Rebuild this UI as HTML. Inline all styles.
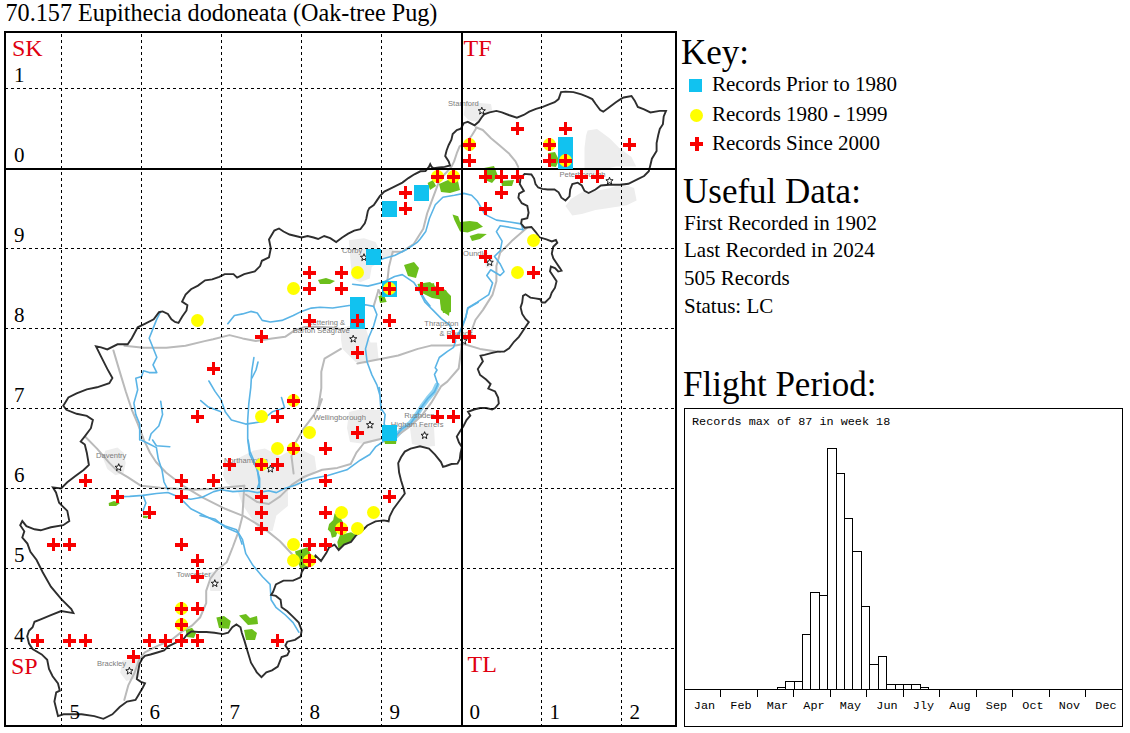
<!DOCTYPE html>
<html><head><meta charset="utf-8"><style>
html,body{margin:0;padding:0;background:#fff;width:1130px;height:733px;overflow:hidden}
svg{display:block}
</style></head><body>
<svg width="1130" height="733" viewBox="0 0 1130 733">
<text x="5.5" y="21" font-family="'Liberation Serif', serif" font-size="24.2" fill="#000">70.157 Eupithecia dodoneata (Oak-tree Pug)</text>
<polygon points="105.2,450.7 117.5,447.6 123.6,452.7 125.7,462.9 123.6,473.1 115.4,475.2 107.3,469.1 103.2,458.8" fill="#ededed"/>
<polygon points="224.8,465.8 238.2,458.2 253.5,450.6 264.9,448.6 280.2,456.3 289.8,450.6 303.1,450.6 314.6,456.3 316.5,469.7 307.0,477.3 299.3,484.9 287.9,490.7 287.9,505.9 276.4,515.5 272.6,530.8 261.1,532.7 249.7,515.5 242.0,504.0 238.2,492.6 226.7,483.0 222.9,475.4" fill="#ededed"/>
<polygon points="349.0,412.0 362.0,409.0 381.0,410.0 382.0,425.0 381.0,440.0 365.0,444.0 350.0,442.0 347.0,428.0" fill="#ededed"/>
<polygon points="410.0,428.0 422.0,424.0 434.0,427.0 435.0,446.0 424.0,447.0 412.0,444.0" fill="#ededed"/>
<polygon points="340.9,327.6 349.1,326.0 365.5,327.6 370.4,342.4 376.9,342.4 378.5,358.7 365.5,363.6 355.6,362.0 349.1,355.5 342.5,348.9 340.9,339.1" fill="#ededed"/>
<polygon points="348.8,240.2 364.0,238.3 375.5,242.1 379.3,249.8 392.7,247.9 394.6,255.5 383.2,259.3 371.7,267.0 369.8,278.4 360.2,282.3 352.6,278.4 350.7,263.2" fill="#ededed"/>
<polygon points="208.2,572.5 220.5,570.5 222.6,590.9 210.3,590.9" fill="#ededed"/>
<polygon points="122.3,660.5 138.7,658.5 140.7,676.9 126.4,681.0 120.2,672.8" fill="#ededed"/>
<polygon points="465.0,105.5 477.3,102.7 491.0,104.1 492.3,110.9 482.8,116.4 477.3,121.8 469.1,120.5 463.7,115.0" fill="#ededed"/>
<polygon points="587.6,130.5 597.0,128.9 609.6,138.3 619.0,147.7 631.5,157.1 636.2,166.5 625.3,166.5 615.9,166.5 601.7,169.7 597.0,172.8 584.5,172.8 584.5,147.7 586.1,135.2" fill="#ededed"/>
<polygon points="565.5,205.9 570.9,199.1 581.8,192.3 595.5,190.9 609.1,188.2 622.0,184.0 634.1,188.1 636.6,200.4 626.7,205.3 609.1,208.0 595.5,210.0 581.8,214.1 572.3,215.5" fill="#ededed"/>
<polygon points="484.0,256.0 492.0,254.0 494.0,266.0 486.0,268.0" fill="#ededed"/>
<polyline points="396.0,436.0 402.0,429.5 410.5,423.0 416.5,415.0 422.0,406.5 428.0,398.5 434.0,391.5 437.0,385.0" fill="none" stroke="#8fd2f0" stroke-width="5" stroke-linejoin="round" stroke-linecap="round"/>
<polyline points="84.8,436.3 97.0,448.6 109.3,462.9 117.5,471.1 127.7,477.2 141.1,485.8 160.2,487.8 175.5,488.7 194.6,489.7 213.7,488.7 232.8,486.8 244.3,485.8" fill="none" stroke="#bababa" stroke-width="2" stroke-linejoin="round" stroke-linecap="round"/>
<polyline points="113.4,350.4 119.5,370.9 125.7,391.3 131.8,409.8 137.9,424.1 144.1,440.4 150.0,452.7 156.0,462.0 166.0,472.5 183.2,485.8 202.3,497.3 225.2,508.8 244.3,516.4 263.4,527.9 280.0,541.2 291.7,553.7 295.5,560.0" fill="none" stroke="#bababa" stroke-width="2" stroke-linejoin="round" stroke-linecap="round"/>
<polyline points="244.3,485.8 242.4,516.4 238.5,531.7 232.8,547.0 226.7,562.3 216.4,570.5 210.3,578.7 206.2,590.9 206.2,603.2 200.1,617.5 191.9,625.7 181.6,631.9 171.4,640.0 157.1,646.2 144.8,652.3 138.7,660.5 134.6,672.8 128.4,685.1 124.3,700.0" fill="none" stroke="#bababa" stroke-width="2" stroke-linejoin="round" stroke-linecap="round"/>
<polyline points="245.8,494.5 257.3,502.1 268.8,504.0 280.2,496.4 291.7,484.9 303.1,477.3 322.2,469.7 337.3,467.9 350.7,464.0 356.4,452.6 364.0,443.0 379.3,439.2 397.5,435.4 409.5,426.7 421.5,415.8 431.3,402.7 441.0,386.4 447.3,381.6 458.7,368.5 462.0,344.0" fill="none" stroke="#bababa" stroke-width="2" stroke-linejoin="round" stroke-linecap="round"/>
<polyline points="124.4,345.8 143.5,347.7 166.4,347.7 185.5,345.8 204.6,341.1 213.1,339.2 229.5,335.1 242.6,338.4 255.7,340.9 272.0,338.4 285.1,336.8 295.0,330.2 304.8,327.0 316.4,326.8 332.7,327.6 340.9,329.3" fill="none" stroke="#bababa" stroke-width="2" stroke-linejoin="round" stroke-linecap="round"/>
<polyline points="340.9,348.9 324.5,358.7 321.3,371.8 321.3,388.2 318.0,410.0 322.0,399.1 314.4,414.4 302.9,429.7 295.3,443.0 291.5,456.4 293.6,473.5" fill="none" stroke="#bababa" stroke-width="2" stroke-linejoin="round" stroke-linecap="round"/>
<polyline points="357.3,363.6 381.8,358.7 398.2,355.5 417.8,348.9 430.9,345.6 455.5,345.6 463.6,344.0 480.0,348.9 500.0,352.0" fill="none" stroke="#bababa" stroke-width="2" stroke-linejoin="round" stroke-linecap="round"/>
<polyline points="378.5,290.0 373.6,306.4" fill="none" stroke="#bababa" stroke-width="2" stroke-linejoin="round" stroke-linecap="round"/>
<polyline points="438.5,182.9 432.8,198.2 427.1,213.5 423.3,228.8 413.7,244.0 402.3,251.7 392.7,251.7 388.9,267.0 387.0,284.2 383.2,300.0 378.5,290.0" fill="none" stroke="#bababa" stroke-width="2" stroke-linejoin="round" stroke-linecap="round"/>
<polyline points="527.0,227.7 511.7,241.1 500.2,252.6 496.4,266.0 496.4,281.2 492.6,294.6 483.0,309.9 475.4,320.0 470.0,335.0" fill="none" stroke="#bababa" stroke-width="2" stroke-linejoin="round" stroke-linecap="round"/>
<polyline points="475.9,127.3 482.8,130.0 491.0,138.2 499.1,145.0 508.7,153.2 515.5,161.4 518.2,166.9" fill="none" stroke="#bababa" stroke-width="2" stroke-linejoin="round" stroke-linecap="round"/>
<polyline points="475.9,128.7 471.8,135.5 466.4,142.3 459.6,146.4 456.8,153.2 454.1,161.4 451.4,166.9 444.0,175.0 438.5,182.9" fill="none" stroke="#bababa" stroke-width="2" stroke-linejoin="round" stroke-linecap="round"/>
<polyline points="118.2,496.7 129.7,496.4 143.0,495.4 156.4,493.5 167.9,492.5 179.3,497.3 190.8,499.2 202.3,497.3 213.7,491.6 221.4,489.7 232.8,491.6 247.7,490.7 257.3,492.6 268.8,490.7 276.4,492.6 284.0,488.8 295.5,484.9 308.7,479.3 327.8,475.5 346.9,469.8 360.2,460.2 369.8,454.5 375.5,446.9 384.0,441.0 390.0,438.0 396.4,435.4 401.8,428.9 410.5,423.5 416.0,415.8 421.5,407.0 428.0,398.3 434.5,391.8 437.8,384.2 434.5,374.4 437.0,370.0 435.2,367.7 439.3,357.5 447.5,351.3 453.6,347.3 455.7,341.1 453.6,333.0 449.5,324.8 441.3,318.6 433.2,310.4 425.0,302.3 420.9,294.1 418.0,288.0" fill="none" stroke="#5ab4e6" stroke-width="1.6" stroke-linejoin="round" stroke-linecap="round"/>
<polyline points="143.0,495.4 145.9,503.0 143.0,510.7" fill="none" stroke="#5ab4e6" stroke-width="1.6" stroke-linejoin="round" stroke-linecap="round"/>
<polyline points="141.1,440.0 148.8,443.8 156.4,447.6 158.3,459.1 162.1,470.6 164.0,482.0 167.9,489.7" fill="none" stroke="#5ab4e6" stroke-width="1.6" stroke-linejoin="round" stroke-linecap="round"/>
<polyline points="152.6,440.0 156.4,445.7 169.8,446.7" fill="none" stroke="#5ab4e6" stroke-width="1.6" stroke-linejoin="round" stroke-linecap="round"/>
<polyline points="183.2,501.1 190.8,508.8 202.3,514.5 213.7,520.2 225.2,526.0 236.6,529.8 242.4,539.3 245.8,553.7 252.9,565.3 262.5,576.8 270.1,584.4 271.1,599.7 275.9,607.3 285.4,615.0 293.1,622.6 298.8,632.2" fill="none" stroke="#5ab4e6" stroke-width="1.6" stroke-linejoin="round" stroke-linecap="round"/>
<polyline points="200.0,515.5 215.3,519.3 224.8,527.0 238.2,532.7 242.0,544.1" fill="none" stroke="#5ab4e6" stroke-width="1.6" stroke-linejoin="round" stroke-linecap="round"/>
<polyline points="248.1,440.0 250.0,451.5 255.7,464.8 259.6,478.2 259.6,487.8" fill="none" stroke="#5ab4e6" stroke-width="1.6" stroke-linejoin="round" stroke-linecap="round"/>
<polyline points="253.9,357.6 251.8,370.9 250.8,387.3 248.8,403.7 247.7,420.0 247.7,439.1 249.7,454.4 257.3,469.7 259.2,483.0 257.3,488.8" fill="none" stroke="#5ab4e6" stroke-width="1.6" stroke-linejoin="round" stroke-linecap="round"/>
<polyline points="208.9,381.0 215.0,391.4 221.0,399.6 225.2,411.8 231.4,420.0 245.7,424.1 260.0,422.0 272.3,411.8 284.6,407.7 281.5,397.5" fill="none" stroke="#5ab4e6" stroke-width="1.6" stroke-linejoin="round" stroke-linecap="round"/>
<polyline points="200.7,400.6 207.8,406.7 221.0,411.8" fill="none" stroke="#5ab4e6" stroke-width="1.6" stroke-linejoin="round" stroke-linecap="round"/>
<polyline points="258.0,362.0 256.0,370.0 252.0,378.0" fill="none" stroke="#5ab4e6" stroke-width="1.6" stroke-linejoin="round" stroke-linecap="round"/>
<polyline points="160.7,311.5 156.8,319.1 153.0,328.6 149.2,338.2 153.0,347.7 156.8,357.3 153.0,364.9 156.8,372.6 149.2,372.6 143.5,370.7 141.6,376.4 135.8,378.3 137.7,389.8 133.9,403.1 135.8,414.6 139.7,424.1 139.7,440.0" fill="none" stroke="#5ab4e6" stroke-width="1.6" stroke-linejoin="round" stroke-linecap="round"/>
<polyline points="160.7,401.2 162.6,414.6 158.8,426.0 151.1,433.7 149.2,440.0" fill="none" stroke="#5ab4e6" stroke-width="1.6" stroke-linejoin="round" stroke-linecap="round"/>
<polyline points="227.8,323.7 234.4,315.5 242.6,313.9 250.8,311.4 257.3,313.0 262.2,320.4 270.4,322.0 281.9,320.4 293.3,315.5 301.5,311.4 311.3,308.1 320.0,307.3 332.7,308.0 349.1,305.5 365.5,304.7 373.6,306.4 376.9,314.5 373.6,326.0 368.7,337.5 365.5,348.9 367.1,362.0 372.0,375.1 376.9,384.9 380.2,396.4 381.0,410.0 379.3,387.6 380.3,399.1 381.2,408.7 385.1,414.4 384.1,423.9 387.0,429.7" fill="none" stroke="#5ab4e6" stroke-width="1.6" stroke-linejoin="round" stroke-linecap="round"/>
<polyline points="352.6,284.2 367.9,286.1 383.2,282.3 394.6,276.5 402.3,274.6 413.7,282.3 421.4,293.7 425.2,300.0 430.0,306.0" fill="none" stroke="#5ab4e6" stroke-width="1.6" stroke-linejoin="round" stroke-linecap="round"/>
<polyline points="381.2,259.3 394.6,255.5 406.1,249.8 417.5,242.1 420.0,239.2 425.7,231.6 429.5,218.2 435.3,204.8 442.9,197.2 454.4,195.3 463.9,193.4 471.6,195.3 477.3,201.0 484.9,214.4 496.4,220.1 509.8,222.0 521.2,223.9 523.1,229.7 511.7,227.7 500.2,225.8 496.4,231.6 502.1,241.1 500.2,250.7 494.5,256.4 500.2,264.0 504.0,271.7 500.2,275.5 490.7,269.8 486.8,275.5 492.6,283.1 488.8,294.6 477.3,302.2 467.7,308.0 465.8,317.5 462.0,328.0 456.0,337.0 453.8,342.4" fill="none" stroke="#5ab4e6" stroke-width="1.6" stroke-linejoin="round" stroke-linecap="round"/>
<polyline points="478.2,302.3 467.9,308.4 465.9,316.6 461.8,326.8 457.7,337.0" fill="none" stroke="#5ab4e6" stroke-width="1.6" stroke-linejoin="round" stroke-linecap="round"/>
<polygon points="452.5,214.4 458.2,216.3 460.1,222.0 469.7,221.0 477.3,222.0 483.0,226.8 475.4,229.7 467.7,232.5 460.1,231.6 458.2,227.7 454.4,220.1" fill="#6cbf1c"/>
<polygon points="469.7,236.0 478.0,233.5 486.8,234.0 480.0,239.0 472.0,241.0" fill="#6cbf1c"/>
<polygon points="439.0,184.0 448.0,180.0 458.0,181.0 460.0,190.0 450.0,193.0 441.0,192.0" fill="#6cbf1c"/>
<polygon points="427.6,183.0 433.0,180.0 436.0,186.0 430.0,190.0" fill="#6cbf1c"/>
<polygon points="439.0,292.0 445.0,291.0 450.0,300.0 450.0,312.0 446.0,314.0 441.0,306.0" fill="#6cbf1c"/>
<polygon points="426.0,285.0 434.0,283.0 435.0,290.0 428.0,291.0" fill="#6cbf1c"/>
<polygon points="548.0,153.0 555.0,152.0 559.0,160.0 556.0,167.0 549.0,166.0" fill="#6cbf1c"/>
<polygon points="484.0,168.0 494.0,166.0 498.0,176.0 492.0,183.0 485.0,180.0" fill="#6cbf1c"/>
<polygon points="501.0,181.0 514.0,180.0 512.0,186.0 502.0,186.0" fill="#6cbf1c"/>
<polygon points="404.0,265.0 414.0,262.0 419.0,268.0 416.0,278.0 408.0,276.0" fill="#6cbf1c"/>
<polygon points="417.5,284.0 430.0,282.0 440.0,290.0 444.0,300.0 432.0,298.0 420.0,292.0" fill="#6cbf1c"/>
<polygon points="318.0,280.0 326.0,278.0 335.0,281.0 330.0,284.0 320.0,284.0" fill="#6cbf1c"/>
<polygon points="439.0,290.0 444.0,289.0 451.0,296.0 451.0,312.0 443.0,313.0" fill="#6cbf1c"/>
<polygon points="384.0,440.0 396.5,440.0 396.0,444.0 385.0,444.0" fill="#6cbf1c"/>
<polygon points="108.7,503.0 114.0,501.0 120.0,503.0 116.0,506.0 109.0,506.0" fill="#6cbf1c"/>
<polygon points="143.0,515.5 148.8,516.0 147.0,518.3 143.0,518.0" fill="#6cbf1c"/>
<polygon points="216.4,617.5 224.0,616.0 230.8,621.0 229.0,628.8 219.0,628.0" fill="#6cbf1c"/>
<polygon points="239.0,615.5 246.0,614.0 250.0,618.0 257.0,616.0 258.0,624.0 248.0,625.0" fill="#6cbf1c"/>
<polygon points="244.0,630.0 252.0,629.0 257.0,633.0 255.0,640.0 246.0,640.0" fill="#6cbf1c"/>
<polygon points="185.7,630.0 192.0,627.8 196.0,633.0 194.0,638.0 187.0,637.0" fill="#6cbf1c"/>
<polygon points="378.5,296.0 384.0,295.0 386.7,302.0 380.0,303.0" fill="#6cbf1c"/>
<polygon points="439.0,291.0 446.0,290.0 450.5,300.0 449.0,316.0 441.0,310.0" fill="#6cbf1c"/>
<polygon points="334.6,513.2 340.0,517.3 342.8,521.4 338.7,528.2 336.0,536.4 331.9,537.8 330.5,532.3 327.8,529.6 329.1,524.1 333.2,520.0" fill="#6cbf1c"/>
<polygon points="340.0,535.0 351.0,532.3 356.4,535.0 351.0,541.9 344.1,544.6 338.7,550.0 337.3,541.9" fill="#6cbf1c"/>
<polygon points="295.0,551.4 307.3,547.3 311.4,555.5 307.3,566.4 300.5,569.2 297.7,561.0" fill="#6cbf1c"/>
<polygon points="450.0,165.5 448.7,161.4 445.2,156.0 446.6,150.5 448.7,145.0 451.4,139.6 452.7,134.1 456.8,130.0 460.9,128.7 463.7,123.2 467.8,121.8 474.6,125.3 478.7,121.8 481.4,117.7 484.1,114.3 489.6,112.3 496.4,110.9 501.9,112.3 508.7,115.0 516.9,117.7 523.7,115.0 529.2,111.6 536.0,108.9 542.8,106.8 549.6,104.1 554.7,102.2 558.6,99.1 561.0,92.1 565.7,91.6 573.5,92.1 581.4,94.4 587.6,96.8 592.3,99.1 595.5,103.8 600.2,110.1 603.3,111.7 609.6,107.0 615.9,102.2 620.6,99.1 623.7,97.5 631.5,96.0 634.7,100.7 637.8,107.0 644.1,109.3 650.4,112.4 659.8,110.9 666.0,110.9 663.7,116.4 662.9,124.2 659.8,128.9 658.2,135.2 656.6,143.0 656.6,150.9 651.9,158.7 650.4,165.0 648.8,171.2 644.1,176.0 637.8,179.1 628.4,183.8 620.0,184.8 609.1,184.8 600.9,185.5 595.5,189.5 588.6,193.0 584.5,190.9 581.8,185.5 577.7,182.7 572.3,184.1 570.2,189.5 569.5,196.4 565.5,200.5 561.4,197.7 558.6,192.3 554.5,189.5 547.7,189.5 542.3,188.9 538.2,187.5 535.5,184.1 534.1,178.6 531.4,174.5 524.5,173.9 520.5,178.6 519.8,184.1 523.9,190.9 519.1,193.6 518.4,197.7 521.8,203.2 527.3,205.9 528.6,212.7 527.3,218.2 521.8,219.5 521.1,223.6 524.5,227.7 531.4,227.0 535.5,231.8 539.5,237.3 546.4,239.3 551.8,241.4 555.9,240.0 557.3,242.7 553.2,246.8 551.8,253.6 553.3,258.3 556.6,263.2 559.9,268.1 561.5,270.6 558.2,271.4 555.0,268.1 550.9,266.5 550.0,271.4 553.3,276.3 556.6,281.2 555.0,287.7 551.7,292.7 550.0,297.6 545.1,302.5 541.9,302.5 540.2,299.2 535.3,298.4 530.4,297.6 525.5,294.3 523.0,295.9 522.2,302.5 520.6,307.4 522.2,313.9 525.5,318.9 528.8,322.1 525.5,327.0 522.2,332.0 518.9,336.9 514.0,341.8 509.1,348.3 504.2,351.6 497.7,351.6 491.1,353.2 484.6,354.9 480.5,355.7 482.9,361.4 479.6,366.3 477.8,369.0 480.1,375.0 486.1,379.5 490.6,384.0 488.3,388.5 495.1,391.5 498.1,397.5 498.8,403.5 495.1,408.0 492.1,409.5 486.1,408.0 480.1,408.0 474.1,409.5 468.0,411.8 470.3,415.6 466.5,420.1 463.5,426.1 460.5,430.6 456.8,436.6 459.0,442.6 462.0,447.1 460.5,453.1 459.8,459.1 457.5,463.6 451.5,464.0 446.0,466.0 443.0,466.9 441.0,462.1 435.0,454.6 429.0,448.6 420.0,446.3 410.6,448.7 404.8,451.6 401.0,457.3 398.2,463.1 399.1,472.6 401.0,480.3 403.9,489.8 404.8,493.6 399.1,501.3 393.4,508.9 389.6,516.6 388.6,521.3 383.8,520.4 375.5,521.4 367.3,525.5 361.9,531.0 356.4,535.0 351.0,541.9 344.1,544.6 338.7,550.0 334.6,544.6 329.1,547.3 326.4,552.8 321.0,561.0 315.5,555.5 310.0,565.7 303.9,568.5 301.8,571.9 300.5,577.3 293.0,580.6 283.5,580.6 275.9,584.4 273.0,592.0 271.1,594.9 275.9,595.9 280.6,599.7 281.6,607.3 287.3,611.2 293.1,616.9 298.8,622.6 301.7,630.3 300.7,636.0 295.0,639.8 287.3,641.7 285.4,645.5 289.2,651.3 287.3,655.1 281.6,657.0 277.8,666.6 272.0,670.4 266.3,672.3 261.5,677.1 256.8,672.3 251.0,662.7 247.3,650.5 244.5,640.9 241.8,632.7 240.5,627.3 236.4,624.5 232.3,627.3 228.2,632.7 222.7,634.1 214.5,632.7 206.4,632.0 198.2,632.0 191.4,631.4 187.3,634.1 183.2,639.5 176.4,642.3 168.2,646.4 164.1,650.5 157.3,652.5 150.5,654.5 145.0,655.9 142.3,658.6 139.5,664.1 138.2,670.9 136.8,679.1 140.9,681.8 145.0,683.2 142.3,688.6 138.2,695.5 135.5,700.0 127.0,701.6 119.7,707.0 112.4,714.3 103.4,718.8 94.3,716.1 81.6,714.3 72.5,714.3 63.5,714.3 58.0,716.1 56.2,708.8 54.4,701.6 56.2,692.5 59.8,690.7 58.0,683.4 52.6,676.2 49.0,668.9 47.2,659.8 41.7,654.4 32.6,649.0 29.0,643.5 27.2,636.3 29.0,630.8 32.6,627.2 34.5,621.8 40.7,619.3 50.9,615.2 61.1,611.1 73.4,613.1 71.3,609.1 61.1,598.8 50.9,586.6 42.7,572.2 36.6,560.0 30.4,551.8 27.4,543.6 22.3,537.5 24.3,531.3 20.2,525.2 22.3,521.1 26.4,526.2 34.5,529.3 40.7,530.3 50.9,527.3 63.2,525.2 69.3,521.1 67.3,510.9 63.2,506.8 59.1,502.7 56.0,492.5 52.9,487.4 61.1,488.4 67.3,482.3 75.4,476.1 83.6,470.0 88.9,465.0 86.8,452.7 84.8,444.5 80.7,441.5 84.8,436.3 90.9,428.2 92.9,420.0 86.8,415.9 76.6,413.8 66.4,409.8 63.3,405.7 68.4,397.5 76.6,393.4 86.8,389.3 97.0,387.3 109.3,383.2 112.4,378.1 107.3,368.9 101.1,356.6 96.0,346.4 101.1,347.4 107.3,349.4 117.5,344.3 127.7,344.3 131.8,338.2 137.7,327.3 144.8,323.8 153.7,319.3 159.0,312.2 162.6,311.4 167.9,314.0 171.4,319.3 175.0,322.0 178.5,322.9 182.1,316.7 186.5,310.5 187.4,305.1 182.1,301.6 185.6,294.5 191.0,289.2 198.0,285.6 205.1,280.3 212.2,279.4 219.3,276.8 224.7,274.1 233.5,274.1 237.1,277.6 244.2,274.1 254.8,271.4 260.1,266.1 261.9,260.8 269.0,257.3 270.8,248.4 269.0,239.5 274.3,230.6 279.0,228.5 283.5,231.5 289.6,234.5 295.6,236.0 301.6,237.5 307.6,236.0 313.6,237.5 318.1,239.0 324.2,236.0 330.2,238.2 336.2,242.0 342.2,237.5 348.2,233.7 354.2,230.7 360.3,229.2 364.8,223.2 366.3,218.7 367.8,211.2 369.3,208.1 373.8,205.1 376.8,200.6 379.8,196.1 384.3,191.6 390.4,188.6 396.4,185.6 402.4,182.6 408.4,178.1 414.4,174.3 420.4,171.3 425.5,171.0 428.9,166.9 430.2,164.1 431.6,166.9 433.6,168.2 439.1,167.5 444.6,166.9" fill="none" stroke="#2e2e2e" stroke-width="1.9" stroke-linejoin="miter" stroke-miterlimit="3"/>
<text x="96" y="457.8" font-family="'Liberation Sans', sans-serif" font-size="7.6" fill="#7c7c7c">Daventry</text>
<text x="223.9" y="463" font-family="'Liberation Sans', sans-serif" font-size="7.6" fill="#7c7c7c">Northampton</text>
<text x="313.4" y="420.3" font-family="'Liberation Sans', sans-serif" font-size="7.6" fill="#7c7c7c">Wellingborough</text>
<text x="404.2" y="418.2" font-family="'Liberation Sans', sans-serif" font-size="7.6" fill="#7c7c7c">Rushden</text>
<text x="390.8" y="426.6" font-family="'Liberation Sans', sans-serif" font-size="7.6" fill="#7c7c7c">Higham Ferrers</text>
<text x="307.5" y="325" font-family="'Liberation Sans', sans-serif" font-size="7.6" fill="#7c7c7c">Kettering &amp;</text>
<text x="292.8" y="333.2" font-family="'Liberation Sans', sans-serif" font-size="7.6" fill="#7c7c7c">Barton Seagrave</text>
<text x="342" y="252.5" font-family="'Liberation Sans', sans-serif" font-size="7.6" fill="#7c7c7c">Corby</text>
<text x="176.5" y="577" font-family="'Liberation Sans', sans-serif" font-size="7.6" fill="#7c7c7c">Towcester</text>
<text x="97" y="665.5" font-family="'Liberation Sans', sans-serif" font-size="7.6" fill="#7c7c7c">Brackley</text>
<text x="448" y="106" font-family="'Liberation Sans', sans-serif" font-size="7.6" fill="#7c7c7c">Stamford</text>
<text x="559.4" y="176.5" font-family="'Liberation Sans', sans-serif" font-size="7.6" fill="#7c7c7c">Peterborough</text>
<text x="463" y="256.4" font-family="'Liberation Sans', sans-serif" font-size="7.6" fill="#7c7c7c">Oundle</text>
<text x="424.3" y="326" font-family="'Liberation Sans', sans-serif" font-size="7.6" fill="#7c7c7c">Thrapston</text>
<text x="439.4" y="335.5" font-family="'Liberation Sans', sans-serif" font-size="7.6" fill="#7c7c7c">&amp; Raunds</text>
<polygon points="118.7,463.7 119.6,466.2 122.3,466.3 120.2,468.0 120.9,470.6 118.7,469.1 116.5,470.6 117.2,468.0 115.1,466.3 117.8,466.2" fill="#fff" stroke="#111" stroke-width="0.95"/>
<polygon points="270.4,465.2 271.3,467.7 274.0,467.8 271.9,469.5 272.6,472.1 270.4,470.6 268.2,472.1 268.9,469.5 266.8,467.8 269.5,467.7" fill="#fff" stroke="#111" stroke-width="0.95"/>
<polygon points="370.0,421.2 370.9,423.7 373.6,423.8 371.5,425.5 372.2,428.1 370.0,426.6 367.8,428.1 368.5,425.5 366.4,423.8 369.1,423.7" fill="#fff" stroke="#111" stroke-width="0.95"/>
<polygon points="424.6,431.7 425.5,434.2 428.2,434.3 426.1,436.0 426.8,438.6 424.6,437.1 422.4,438.6 423.1,436.0 421.0,434.3 423.7,434.2" fill="#fff" stroke="#111" stroke-width="0.95"/>
<polygon points="353.2,335.2 354.1,337.7 356.8,337.8 354.7,339.5 355.4,342.1 353.2,340.6 351.0,342.1 351.7,339.5 349.6,337.8 352.3,337.7" fill="#fff" stroke="#111" stroke-width="0.95"/>
<polygon points="364.0,253.7 364.9,256.2 367.6,256.3 365.5,258.0 366.2,260.6 364.0,259.1 361.8,260.6 362.5,258.0 360.4,256.3 363.1,256.2" fill="#fff" stroke="#111" stroke-width="0.95"/>
<polygon points="214.8,579.7 215.7,582.2 218.4,582.3 216.3,584.0 217.0,586.6 214.8,585.1 212.6,586.6 213.3,584.0 211.2,582.3 213.9,582.2" fill="#fff" stroke="#111" stroke-width="0.95"/>
<polygon points="129.4,667.2 130.3,669.7 133.0,669.8 130.9,671.5 131.6,674.1 129.4,672.6 127.2,674.1 127.9,671.5 125.8,669.8 128.5,669.7" fill="#fff" stroke="#111" stroke-width="0.95"/>
<polygon points="481.8,107.2 482.7,109.7 485.4,109.8 483.3,111.5 484.0,114.1 481.8,112.6 479.6,114.1 480.3,111.5 478.2,109.8 480.9,109.7" fill="#fff" stroke="#111" stroke-width="0.95"/>
<polygon points="609.5,177.2 610.4,179.7 613.1,179.8 611.0,181.5 611.7,184.1 609.5,182.6 607.3,184.1 608.0,181.5 605.9,179.8 608.6,179.7" fill="#fff" stroke="#111" stroke-width="0.95"/>
<polygon points="489.7,258.7 490.6,261.2 493.3,261.3 491.2,263.0 491.9,265.6 489.7,264.1 487.5,265.6 488.2,263.0 486.1,261.3 488.8,261.2" fill="#fff" stroke="#111" stroke-width="0.95"/>
<polygon points="463.6,337.2 464.5,339.7 467.2,339.8 465.1,341.5 465.8,344.1 463.6,342.6 461.4,344.1 462.1,341.5 460.0,339.8 462.7,339.7" fill="#fff" stroke="#111" stroke-width="0.95"/>
<line x1="61.5" y1="34" x2="61.5" y2="725" stroke="#000" stroke-width="1" stroke-dasharray="3 3"/>
<line x1="141.5" y1="34" x2="141.5" y2="725" stroke="#000" stroke-width="1" stroke-dasharray="3 3"/>
<line x1="221.5" y1="34" x2="221.5" y2="725" stroke="#000" stroke-width="1" stroke-dasharray="3 3"/>
<line x1="301.5" y1="34" x2="301.5" y2="725" stroke="#000" stroke-width="1" stroke-dasharray="3 3"/>
<line x1="381.5" y1="34" x2="381.5" y2="725" stroke="#000" stroke-width="1" stroke-dasharray="3 3"/>
<line x1="541.5" y1="34" x2="541.5" y2="725" stroke="#000" stroke-width="1" stroke-dasharray="3 3"/>
<line x1="621.5" y1="34" x2="621.5" y2="725" stroke="#000" stroke-width="1" stroke-dasharray="3 3"/>
<line x1="5" y1="88.5" x2="675" y2="88.5" stroke="#000" stroke-width="1" stroke-dasharray="3 3"/>
<line x1="5" y1="248.5" x2="675" y2="248.5" stroke="#000" stroke-width="1" stroke-dasharray="3 3"/>
<line x1="5" y1="328.5" x2="675" y2="328.5" stroke="#000" stroke-width="1" stroke-dasharray="3 3"/>
<line x1="5" y1="408.5" x2="675" y2="408.5" stroke="#000" stroke-width="1" stroke-dasharray="3 3"/>
<line x1="5" y1="488.5" x2="675" y2="488.5" stroke="#000" stroke-width="1" stroke-dasharray="3 3"/>
<line x1="5" y1="568.5" x2="675" y2="568.5" stroke="#000" stroke-width="1" stroke-dasharray="3 3"/>
<line x1="5" y1="648.5" x2="675" y2="648.5" stroke="#000" stroke-width="1" stroke-dasharray="3 3"/>
<line x1="462" y1="31" x2="462" y2="727" stroke="#000" stroke-width="2"/>
<line x1="4" y1="169" x2="677" y2="169" stroke="#000" stroke-width="2"/>
<rect x="5" y="32" width="671" height="694" fill="none" stroke="#000" stroke-width="2"/>
<rect x="558" y="137" width="15" height="16" fill="#11c2f0"/>
<rect x="558" y="153" width="15" height="16" fill="#11c2f0"/>
<rect x="414" y="185" width="15" height="16" fill="#11c2f0"/>
<rect x="382" y="201" width="15" height="16" fill="#11c2f0"/>
<rect x="366" y="249" width="15" height="16" fill="#11c2f0"/>
<rect x="382" y="281" width="15" height="16" fill="#11c2f0"/>
<rect x="350" y="297" width="15" height="16" fill="#11c2f0"/>
<rect x="350" y="313" width="15" height="16" fill="#11c2f0"/>
<rect x="382" y="425" width="15" height="16" fill="#11c2f0"/>
<circle cx="469.5" cy="144.5" r="6.5" fill="#ffff00"/>
<circle cx="549.5" cy="144.5" r="6.5" fill="#ffff00"/>
<circle cx="565.5" cy="160.5" r="6.5" fill="#ffff00"/>
<circle cx="437.5" cy="176.5" r="6.5" fill="#ffff00"/>
<circle cx="453.5" cy="176.5" r="6.5" fill="#ffff00"/>
<circle cx="533.5" cy="240.5" r="6.5" fill="#ffff00"/>
<circle cx="357.5" cy="272.5" r="6.5" fill="#ffff00"/>
<circle cx="293.5" cy="288.5" r="6.5" fill="#ffff00"/>
<circle cx="389.5" cy="288.5" r="6.5" fill="#ffff00"/>
<circle cx="517.5" cy="272.5" r="6.5" fill="#ffff00"/>
<circle cx="293.5" cy="400.5" r="6.5" fill="#ffff00"/>
<circle cx="261.5" cy="416.5" r="6.5" fill="#ffff00"/>
<circle cx="309.5" cy="432.5" r="6.5" fill="#ffff00"/>
<circle cx="277.5" cy="448.5" r="6.5" fill="#ffff00"/>
<circle cx="293.5" cy="448.5" r="6.5" fill="#ffff00"/>
<circle cx="261.5" cy="464.5" r="6.5" fill="#ffff00"/>
<circle cx="341.5" cy="512.5" r="6.5" fill="#ffff00"/>
<circle cx="373.5" cy="512.5" r="6.5" fill="#ffff00"/>
<circle cx="357.5" cy="528.5" r="6.5" fill="#ffff00"/>
<circle cx="293.5" cy="544.5" r="6.5" fill="#ffff00"/>
<circle cx="293.5" cy="560.5" r="6.5" fill="#ffff00"/>
<circle cx="309.5" cy="560.5" r="6.5" fill="#ffff00"/>
<circle cx="197.5" cy="320.5" r="6.5" fill="#ffff00"/>
<circle cx="181.5" cy="608.5" r="6.5" fill="#ffff00"/>
<circle cx="181.5" cy="624.5" r="6.5" fill="#ffff00"/>
<circle cx="341.5" cy="528.5" r="6.5" fill="#ffff00"/>
<path d="M511 127h13v4h-13z M516 122h3v13h-3z" fill="#f80000"/>
<path d="M559 127h13v4h-13z M564 122h3v13h-3z" fill="#f80000"/>
<path d="M463 143h13v4h-13z M468 138h3v13h-3z" fill="#f80000"/>
<path d="M463 159h13v4h-13z M468 154h3v13h-3z" fill="#f80000"/>
<path d="M543 143h13v4h-13z M548 138h3v13h-3z" fill="#f80000"/>
<path d="M543 159h13v4h-13z M548 154h3v13h-3z" fill="#f80000"/>
<path d="M559 159h13v4h-13z M564 154h3v13h-3z" fill="#f80000"/>
<path d="M623 143h13v4h-13z M628 138h3v13h-3z" fill="#f80000"/>
<path d="M431 175h13v4h-13z M436 170h3v13h-3z" fill="#f80000"/>
<path d="M447 175h13v4h-13z M452 170h3v13h-3z" fill="#f80000"/>
<path d="M479 175h13v4h-13z M484 170h3v13h-3z" fill="#f80000"/>
<path d="M495 175h13v4h-13z M500 170h3v13h-3z" fill="#f80000"/>
<path d="M511 175h13v4h-13z M516 170h3v13h-3z" fill="#f80000"/>
<path d="M575 175h13v4h-13z M580 170h3v13h-3z" fill="#f80000"/>
<path d="M591 175h13v4h-13z M596 170h3v13h-3z" fill="#f80000"/>
<path d="M495 191h13v4h-13z M500 186h3v13h-3z" fill="#f80000"/>
<path d="M479 207h13v4h-13z M484 202h3v13h-3z" fill="#f80000"/>
<path d="M479 255h13v4h-13z M484 250h3v13h-3z" fill="#f80000"/>
<path d="M399 191h13v4h-13z M404 186h3v13h-3z" fill="#f80000"/>
<path d="M399 207h13v4h-13z M404 202h3v13h-3z" fill="#f80000"/>
<path d="M335 271h13v4h-13z M340 266h3v13h-3z" fill="#f80000"/>
<path d="M303 271h13v4h-13z M308 266h3v13h-3z" fill="#f80000"/>
<path d="M303 287h13v4h-13z M308 282h3v13h-3z" fill="#f80000"/>
<path d="M335 287h13v4h-13z M340 282h3v13h-3z" fill="#f80000"/>
<path d="M383 287h13v4h-13z M388 282h3v13h-3z" fill="#f80000"/>
<path d="M415 287h13v4h-13z M420 282h3v13h-3z" fill="#f80000"/>
<path d="M431 287h13v4h-13z M436 282h3v13h-3z" fill="#f80000"/>
<path d="M351 319h13v4h-13z M356 314h3v13h-3z" fill="#f80000"/>
<path d="M303 319h13v4h-13z M308 314h3v13h-3z" fill="#f80000"/>
<path d="M383 319h13v4h-13z M388 314h3v13h-3z" fill="#f80000"/>
<path d="M255 335h13v4h-13z M260 330h3v13h-3z" fill="#f80000"/>
<path d="M447 335h13v4h-13z M452 330h3v13h-3z" fill="#f80000"/>
<path d="M463 335h13v4h-13z M468 330h3v13h-3z" fill="#f80000"/>
<path d="M351 351h13v4h-13z M356 346h3v13h-3z" fill="#f80000"/>
<path d="M527 271h13v4h-13z M532 266h3v13h-3z" fill="#f80000"/>
<path d="M287 399h13v4h-13z M292 394h3v13h-3z" fill="#f80000"/>
<path d="M271 415h13v4h-13z M276 410h3v13h-3z" fill="#f80000"/>
<path d="M431 415h13v4h-13z M436 410h3v13h-3z" fill="#f80000"/>
<path d="M447 415h13v4h-13z M452 410h3v13h-3z" fill="#f80000"/>
<path d="M351 431h13v4h-13z M356 426h3v13h-3z" fill="#f80000"/>
<path d="M287 447h13v4h-13z M292 442h3v13h-3z" fill="#f80000"/>
<path d="M319 447h13v4h-13z M324 442h3v13h-3z" fill="#f80000"/>
<path d="M223 463h13v4h-13z M228 458h3v13h-3z" fill="#f80000"/>
<path d="M255 463h13v4h-13z M260 458h3v13h-3z" fill="#f80000"/>
<path d="M271 463h13v4h-13z M276 458h3v13h-3z" fill="#f80000"/>
<path d="M319 479h13v4h-13z M324 474h3v13h-3z" fill="#f80000"/>
<path d="M255 495h13v4h-13z M260 490h3v13h-3z" fill="#f80000"/>
<path d="M383 495h13v4h-13z M388 490h3v13h-3z" fill="#f80000"/>
<path d="M255 511h13v4h-13z M260 506h3v13h-3z" fill="#f80000"/>
<path d="M319 511h13v4h-13z M324 506h3v13h-3z" fill="#f80000"/>
<path d="M255 527h13v4h-13z M260 522h3v13h-3z" fill="#f80000"/>
<path d="M335 527h13v4h-13z M340 522h3v13h-3z" fill="#f80000"/>
<path d="M303 543h13v4h-13z M308 538h3v13h-3z" fill="#f80000"/>
<path d="M319 543h13v4h-13z M324 538h3v13h-3z" fill="#f80000"/>
<path d="M303 559h13v4h-13z M308 554h3v13h-3z" fill="#f80000"/>
<path d="M207 367h13v4h-13z M212 362h3v13h-3z" fill="#f80000"/>
<path d="M191 415h13v4h-13z M196 410h3v13h-3z" fill="#f80000"/>
<path d="M79 479h13v4h-13z M84 474h3v13h-3z" fill="#f80000"/>
<path d="M175 479h13v4h-13z M180 474h3v13h-3z" fill="#f80000"/>
<path d="M207 479h13v4h-13z M212 474h3v13h-3z" fill="#f80000"/>
<path d="M111 495h13v4h-13z M116 490h3v13h-3z" fill="#f80000"/>
<path d="M175 495h13v4h-13z M180 490h3v13h-3z" fill="#f80000"/>
<path d="M143 511h13v4h-13z M148 506h3v13h-3z" fill="#f80000"/>
<path d="M47 543h13v4h-13z M52 538h3v13h-3z" fill="#f80000"/>
<path d="M63 543h13v4h-13z M68 538h3v13h-3z" fill="#f80000"/>
<path d="M175 543h13v4h-13z M180 538h3v13h-3z" fill="#f80000"/>
<path d="M191 559h13v4h-13z M196 554h3v13h-3z" fill="#f80000"/>
<path d="M191 575h13v4h-13z M196 570h3v13h-3z" fill="#f80000"/>
<path d="M175 607h13v4h-13z M180 602h3v13h-3z" fill="#f80000"/>
<path d="M191 607h13v4h-13z M196 602h3v13h-3z" fill="#f80000"/>
<path d="M175 623h13v4h-13z M180 618h3v13h-3z" fill="#f80000"/>
<path d="M31 639h13v4h-13z M36 634h3v13h-3z" fill="#f80000"/>
<path d="M63 639h13v4h-13z M68 634h3v13h-3z" fill="#f80000"/>
<path d="M79 639h13v4h-13z M84 634h3v13h-3z" fill="#f80000"/>
<path d="M143 639h13v4h-13z M148 634h3v13h-3z" fill="#f80000"/>
<path d="M159 639h13v4h-13z M164 634h3v13h-3z" fill="#f80000"/>
<path d="M175 639h13v4h-13z M180 634h3v13h-3z" fill="#f80000"/>
<path d="M191 639h13v4h-13z M196 634h3v13h-3z" fill="#f80000"/>
<path d="M127 655h13v4h-13z M132 650h3v13h-3z" fill="#f80000"/>
<path d="M271 639h13v4h-13z M276 634h3v13h-3z" fill="#f80000"/>
<text x="14" y="82" font-family="'Liberation Serif', serif" font-size="21" fill="#000">1</text>
<text x="14" y="162" font-family="'Liberation Serif', serif" font-size="21" fill="#000">0</text>
<text x="14" y="242" font-family="'Liberation Serif', serif" font-size="21" fill="#000">9</text>
<text x="14" y="322" font-family="'Liberation Serif', serif" font-size="21" fill="#000">8</text>
<text x="14" y="402" font-family="'Liberation Serif', serif" font-size="21" fill="#000">7</text>
<text x="14" y="482" font-family="'Liberation Serif', serif" font-size="21" fill="#000">6</text>
<text x="14" y="562" font-family="'Liberation Serif', serif" font-size="21" fill="#000">5</text>
<text x="14" y="642" font-family="'Liberation Serif', serif" font-size="21" fill="#000">4</text>
<text x="69.5" y="719" font-family="'Liberation Serif', serif" font-size="21" fill="#000">5</text>
<text x="149.5" y="719" font-family="'Liberation Serif', serif" font-size="21" fill="#000">6</text>
<text x="229.5" y="719" font-family="'Liberation Serif', serif" font-size="21" fill="#000">7</text>
<text x="309.5" y="719" font-family="'Liberation Serif', serif" font-size="21" fill="#000">8</text>
<text x="389.5" y="719" font-family="'Liberation Serif', serif" font-size="21" fill="#000">9</text>
<text x="469.5" y="719" font-family="'Liberation Serif', serif" font-size="21" fill="#000">0</text>
<text x="549.5" y="719" font-family="'Liberation Serif', serif" font-size="21" fill="#000">1</text>
<text x="629.5" y="719" font-family="'Liberation Serif', serif" font-size="21" fill="#000">2</text>
<text x="12" y="56" font-family="'Liberation Serif', serif" font-size="24" fill="#e00010">SK</text>
<text x="463.5" y="56" font-family="'Liberation Serif', serif" font-size="24" fill="#e00010">TF</text>
<text x="11" y="674" font-family="'Liberation Serif', serif" font-size="24" fill="#e00010">SP</text>
<text x="467.5" y="672" font-family="'Liberation Serif', serif" font-size="24" fill="#e00010">TL</text>
<text x="681" y="64" font-family="'Liberation Serif', serif" font-size="35" fill="#000">Key:</text>
<rect x="689" y="79" width="13" height="13" fill="#11c2f0"/>
<circle cx="696.5" cy="115.5" r="6.5" fill="#ffff00"/>
<path d="M690 142h13v4h-13z M695 137h4v14h-4z" fill="#f80000"/>
<text x="712" y="91" font-family="'Liberation Serif', serif" font-size="21" fill="#000">Records Prior to 1980</text>
<text x="712" y="121" font-family="'Liberation Serif', serif" font-size="21" fill="#000">Records 1980 - 1999</text>
<text x="712" y="150" font-family="'Liberation Serif', serif" font-size="21" fill="#000">Records Since 2000</text>
<text x="683" y="203" font-family="'Liberation Serif', serif" font-size="35" fill="#000">Useful Data:</text>
<text x="684" y="230" font-family="'Liberation Serif', serif" font-size="21" fill="#000">First Recorded in 1902</text>
<text x="684" y="257" font-family="'Liberation Serif', serif" font-size="21" fill="#000">Last Recorded in 2024</text>
<text x="684" y="285" font-family="'Liberation Serif', serif" font-size="21" fill="#000">505 Records</text>
<text x="684" y="312.5" font-family="'Liberation Serif', serif" font-size="21" fill="#000">Status: LC</text>
<text x="683" y="396" font-family="'Liberation Serif', serif" font-size="35" fill="#000">Flight Period:</text>
<rect x="684.5" y="408.5" width="438" height="318" fill="none" stroke="#000" stroke-width="1"/>
<text x="692" y="425" font-family="'Liberation Mono', monospace" font-size="11.8" fill="#000">Records max of 87 in week 18</text>
<rect x="777.50" y="687.50" width="8.00" height="2.00" fill="#fff" stroke="#000" stroke-width="1"/>
<rect x="785.50" y="681.50" width="9.00" height="8.00" fill="#fff" stroke="#000" stroke-width="1"/>
<rect x="794.50" y="681.50" width="8.00" height="8.00" fill="#fff" stroke="#000" stroke-width="1"/>
<rect x="802.50" y="634.50" width="8.00" height="55.00" fill="#fff" stroke="#000" stroke-width="1"/>
<rect x="810.50" y="592.50" width="9.00" height="97.00" fill="#fff" stroke="#000" stroke-width="1"/>
<rect x="819.50" y="595.50" width="8.00" height="94.00" fill="#fff" stroke="#000" stroke-width="1"/>
<rect x="827.50" y="448.50" width="9.00" height="241.00" fill="#fff" stroke="#000" stroke-width="1"/>
<rect x="836.50" y="473.50" width="8.00" height="216.00" fill="#fff" stroke="#000" stroke-width="1"/>
<rect x="844.50" y="518.50" width="8.00" height="171.00" fill="#fff" stroke="#000" stroke-width="1"/>
<rect x="852.50" y="551.50" width="9.00" height="138.00" fill="#fff" stroke="#000" stroke-width="1"/>
<rect x="861.50" y="606.50" width="8.00" height="83.00" fill="#fff" stroke="#000" stroke-width="1"/>
<rect x="869.50" y="664.50" width="9.00" height="25.00" fill="#fff" stroke="#000" stroke-width="1"/>
<rect x="878.50" y="656.50" width="8.00" height="33.00" fill="#fff" stroke="#000" stroke-width="1"/>
<rect x="886.50" y="684.50" width="9.00" height="5.00" fill="#fff" stroke="#000" stroke-width="1"/>
<rect x="895.50" y="684.50" width="8.00" height="5.00" fill="#fff" stroke="#000" stroke-width="1"/>
<rect x="903.50" y="684.50" width="8.00" height="5.00" fill="#fff" stroke="#000" stroke-width="1"/>
<rect x="911.50" y="684.50" width="9.00" height="5.00" fill="#fff" stroke="#000" stroke-width="1"/>
<rect x="920.50" y="687.50" width="8.00" height="2.00" fill="#fff" stroke="#000" stroke-width="1"/>
<line x1="684" y1="689.5" x2="1122" y2="689.5" stroke="#000" stroke-width="1"/>
<text x="693.8" y="709" font-family="'Liberation Mono', monospace" font-size="11.8" fill="#000">Jan</text>
<line x1="720.5" y1="689" x2="720.5" y2="697" stroke="#000" stroke-width="1"/>
<text x="730.3" y="709" font-family="'Liberation Mono', monospace" font-size="11.8" fill="#000">Feb</text>
<line x1="757.5" y1="689" x2="757.5" y2="697" stroke="#000" stroke-width="1"/>
<text x="766.8" y="709" font-family="'Liberation Mono', monospace" font-size="11.8" fill="#000">Mar</text>
<line x1="793.5" y1="689" x2="793.5" y2="697" stroke="#000" stroke-width="1"/>
<text x="803.3" y="709" font-family="'Liberation Mono', monospace" font-size="11.8" fill="#000">Apr</text>
<line x1="830.5" y1="689" x2="830.5" y2="697" stroke="#000" stroke-width="1"/>
<text x="839.8" y="709" font-family="'Liberation Mono', monospace" font-size="11.8" fill="#000">May</text>
<line x1="866.5" y1="689" x2="866.5" y2="697" stroke="#000" stroke-width="1"/>
<text x="876.3" y="709" font-family="'Liberation Mono', monospace" font-size="11.8" fill="#000">Jun</text>
<line x1="903.5" y1="689" x2="903.5" y2="697" stroke="#000" stroke-width="1"/>
<text x="912.8" y="709" font-family="'Liberation Mono', monospace" font-size="11.8" fill="#000">Jly</text>
<line x1="939.5" y1="689" x2="939.5" y2="697" stroke="#000" stroke-width="1"/>
<text x="949.3" y="709" font-family="'Liberation Mono', monospace" font-size="11.8" fill="#000">Aug</text>
<line x1="976.5" y1="689" x2="976.5" y2="697" stroke="#000" stroke-width="1"/>
<text x="985.8" y="709" font-family="'Liberation Mono', monospace" font-size="11.8" fill="#000">Sep</text>
<line x1="1012.5" y1="689" x2="1012.5" y2="697" stroke="#000" stroke-width="1"/>
<text x="1022.3" y="709" font-family="'Liberation Mono', monospace" font-size="11.8" fill="#000">Oct</text>
<line x1="1049.5" y1="689" x2="1049.5" y2="697" stroke="#000" stroke-width="1"/>
<text x="1058.8" y="709" font-family="'Liberation Mono', monospace" font-size="11.8" fill="#000">Nov</text>
<line x1="1085.5" y1="689" x2="1085.5" y2="697" stroke="#000" stroke-width="1"/>
<text x="1095.3" y="709" font-family="'Liberation Mono', monospace" font-size="11.8" fill="#000">Dec</text>
</svg>
</body></html>
